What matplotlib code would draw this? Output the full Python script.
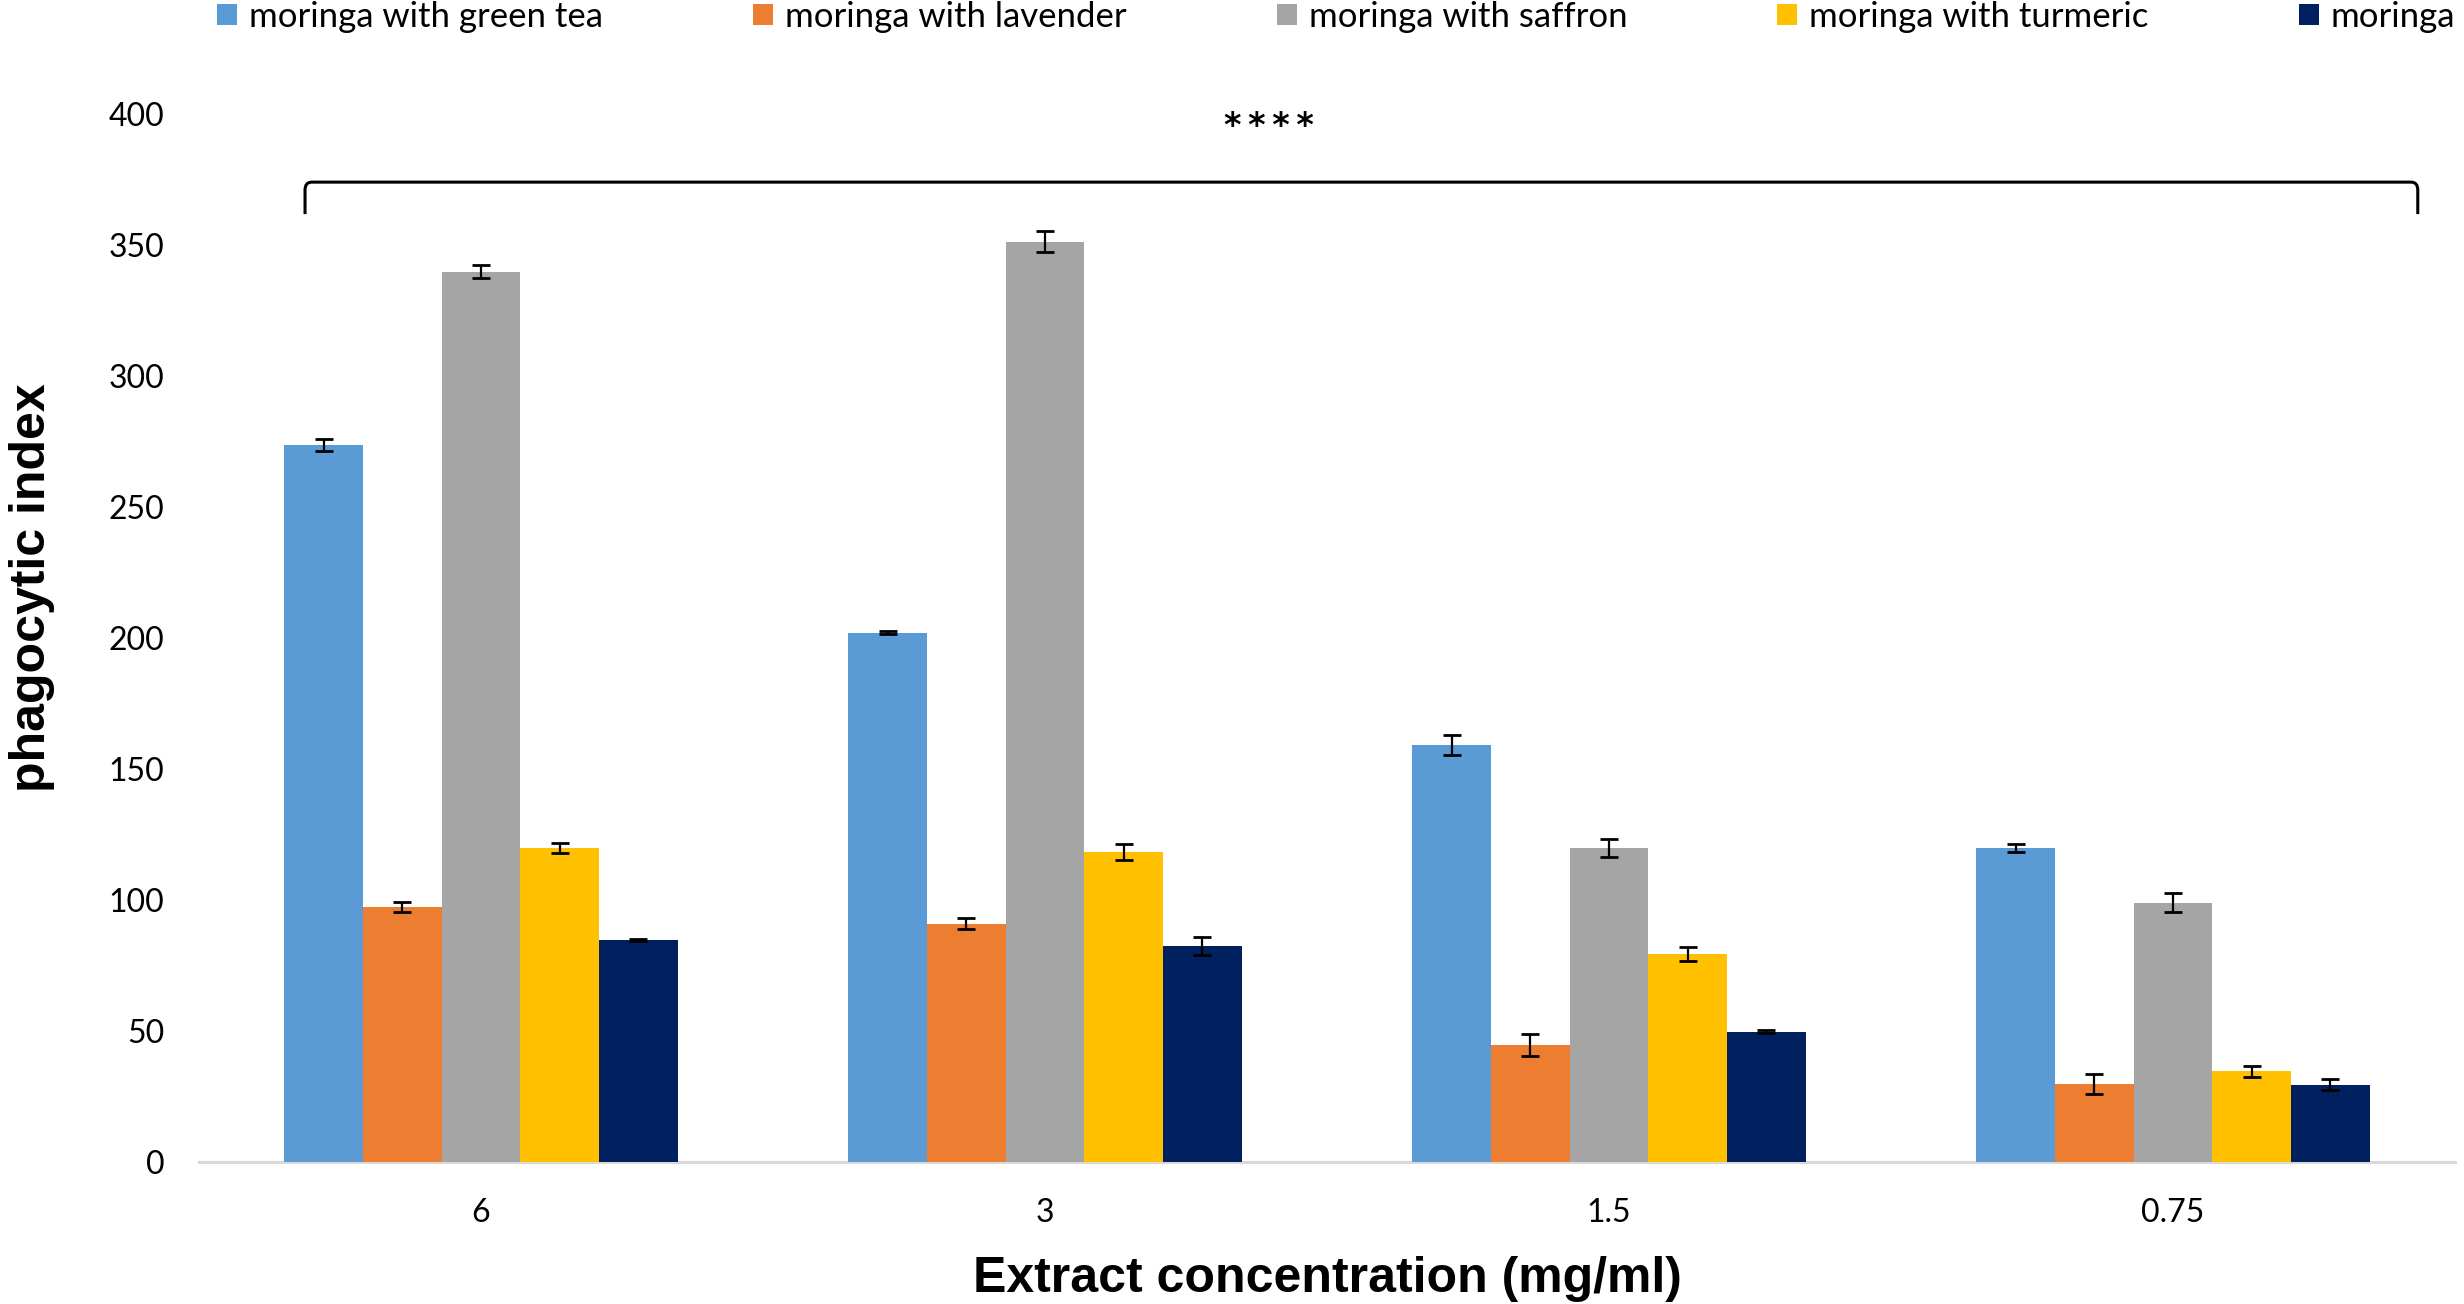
import matplotlib
matplotlib.use("Agg")
import matplotlib.pyplot as plt
import numpy as np
from matplotlib.path import Path
from matplotlib.patches import PathPatch, Patch

categories = ["6", "3", "1.5", "0.75"]
series_names = ["moringa with green tea", "moringa with lavender", "moringa with saffron",
                "moringa with turmeric", "moringa"]
green_tea = [273.7, 202.0, 159.1, 119.7]
lavender = [97.5, 91.0, 44.6, 29.7]
saffron = [339.8, 351.3, 119.7, 99.0]
turmeric = [119.7, 118.3, 79.5, 34.6]
moringa = [84.6, 82.4, 49.7, 29.4]
green_tea_err = [2.3, 0.5, 3.9, 1.5]
lavender_err = [1.9, 2.2, 4.3, 3.7]
saffron_err = [2.5, 3.9, 3.4, 3.5]
turmeric_err = [1.9, 3.0, 2.6, 2.1]
moringa_err = [0.4, 3.4, 0.5, 2.1]
y_ticks = [0, 50, 100, 150, 200, 250, 300, 350, 400]
significance = "*\u2009*\u2009*\u2009*"

colors = ["#5B9BD5", "#ED7D31", "#A5A5A5", "#FFC000", "#002060"]
values = [green_tea, lavender, saffron, turmeric, moringa]
errors = [green_tea_err, lavender_err, saffron_err, turmeric_err, moringa_err]

W, H = 2464, 1304
fig = plt.figure(figsize=(W / 100, H / 100), dpi=100)
ax = fig.add_axes([199 / W, 1 - 1162 / H, (2455 - 199) / W, (1162 - 114) / H])

x = np.arange(len(categories))
bw = 0.1395
for i, (vals, errs, c) in enumerate(zip(values, errors, colors)):
    pos = x + (i - 2) * bw
    ax.bar(pos, vals, width=bw, color=c, edgecolor="none", zorder=2)
    ax.errorbar(pos, vals, yerr=errs, fmt="none", ecolor="black", elinewidth=1.6,
                capsize=6.5, capthick=2.0, zorder=3)

ax.set_xlim(-0.5, len(categories) - 0.5)
ax.set_ylim(0, 400)
ax.set_yticks(y_ticks)
ax.set_xticks(x)
ax.set_xticklabels(categories)
for lab in ax.get_xticklabels() + ax.get_yticklabels():
    lab.set_fontfamily("Lato")
    lab.set_fontsize(23)
ax.tick_params(axis="both", length=0)
ax.tick_params(axis="y", pad=25)
ax.tick_params(axis="x", pad=26)
for s in ["top", "right", "left"]:
    ax.spines[s].set_visible(False)
ax.spines["bottom"].set_color("#D9D9D9")
ax.spines["bottom"].set_linewidth(2.2)
ax.spines["bottom"].set_zorder(1)

ax.set_xlabel("Extract concentration (mg/ml)", family="Liberation Sans", weight="bold",
              fontsize=36, labelpad=20)
fig.text(32 / W, 1 - 588 / H, "phagocytic index", family="Liberation Sans", weight="bold",
         fontsize=36, rotation=90, ha="center", va="center")

# significance bracket
xl, xr = -0.312, 3.434
yt, yb = 374.0, 361.8
rx, ry = 0.012, 3.0
verts = [(xl, yb), (xl, yt - ry), (xl, yt), (xl + rx, yt), (xr - rx, yt), (xr, yt),
         (xr, yt - ry), (xr, yb)]
codes = [Path.MOVETO, Path.LINETO, Path.CURVE3, Path.CURVE3, Path.LINETO, Path.CURVE3,
         Path.CURVE3, Path.LINETO]
ax.add_patch(PathPatch(Path(verts, codes), facecolor="none", edgecolor="black", lw=2.2,
                       clip_on=False, zorder=4))
ax.text(1.397, 391.7, significance, ha="center", va="baseline", family="DejaVu Sans",
        weight="bold", fontsize=24, clip_on=False)

handles = [Patch(facecolor=c, edgecolor="none") for c in colors]
em = 25 * 100 / 72
fig.legend(handles, series_names, loc="upper left", bbox_to_anchor=(217 / W, 1 - 1 / H),
           ncol=5, frameon=False, prop=dict(family="Lato", size=25),
           handlelength=20 / em, handleheight=20 / em, handletextpad=12 / em,
           columnspacing=150 / em, borderpad=0, borderaxespad=0)

fig.savefig("out.png", dpi=100)
